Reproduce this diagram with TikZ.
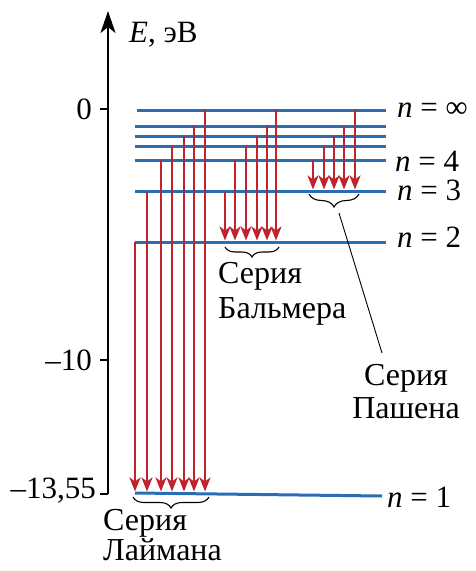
\documentclass[tikz,border=0pt]{standalone}
\usepackage{fontspec}
\setmainfont{Liberation Serif}
\usetikzlibrary{arrows.meta,decorations.pathreplacing}
\definecolor{lvblue}{RGB}{38,110,182}
\definecolor{trred}{RGB}{192,35,45}

\begin{document}
\begin{tikzpicture}[x=1pt, y=-1pt, font=\fontsize{31}{33}\selectfont,
    lvl/.style={line width=3pt, lvblue},
    tr/.style={line width=2.6pt, trred, shorten >=1.5pt,
        -{Stealth[length=14pt, width=11pt, inset=4pt]}},
    br/.style={decorate, decoration={brace, mirror, amplitude=#1}, line width=1.1pt},
    br/.default=10pt,
    lab/.style={anchor=base west, inner sep=0pt},
    ser/.style={align=#1, inner sep=0pt}]
    \useasboundingbox (0,0) rectangle (476,571);

    % ось энергии
    \coordinate (ax0) at (108,494);
    \coordinate (ax1) at (108,11);
    \draw[line width=2.4pt, -{Stealth[length=22pt, width=15pt, inset=6pt]}] (ax0) -- (ax1);
    \node[lab] (elab) at (129,42) {\textit{E}, эВ};

    % деления
    \coordinate (t0) at (108,109);
    \coordinate (t10) at (108,360);
    \draw[line width=2.4pt] (t0) -- ++(-8,0);
    \draw[line width=2.4pt] (t10) -- ++(-8,0);
    \draw[line width=2.4pt] (ax0) -- ++(-8,0);
    \node[anchor=east, inner sep=0pt] (v0) at (92,109) {0};
    \node[anchor=east, inner sep=0pt] (v10) at (92,360) {–10};
    \node[anchor=east, inner sep=0pt] (v13) at (96,491) {–13,55};

    % уровни
    \coordinate (ninf) at (137,110);
    \coordinate (n7) at (135,126);
    \coordinate (n6) at (135,136);
    \coordinate (n5) at (135,146);
    \coordinate (n4) at (135,160);
    \coordinate (n3) at (135,191);
    \coordinate (n2) at (135,242);
    \coordinate (n1) at (135,493);
    \draw[lvl] (ninf) -- (386,0 |- ninf);
    \draw[lvl] (n7) -- (386,0 |- n7);
    \draw[lvl] (n6) -- (386,0 |- n6);
    \draw[lvl] (n5) -- (386,0 |- n5);
    \draw[lvl] (n4) -- (386,0 |- n4);
    \draw[lvl] (n3) -- (386,0 |- n3);
    \draw[lvl] (n2) -- (386,0 |- n2);
    \draw[lvl] (n1) -- (382,496);

    \node[lab] (linf) at (397,117) {\textit{n} = ∞};
    \node[lab] (l4) at (395,171) {\textit{n} = 4};
    \node[lab] (l3) at (397,200) {\textit{n} = 3};
    \node[lab] (l2) at (397,247) {\textit{n} = 2};
    \node[lab] (l1) at (387,507) {\textit{n} = 1};

    % серия Лаймана
    \draw[tr] (n2) -- (n2 |- n1);
    \draw[tr] (147,0 |- n3) -- (147,0 |- n1);
    \draw[tr] (161,0 |- n4) -- (161,0 |- n1);
    \draw[tr] (172,0 |- n5) -- (172,0 |- n1);
    \draw[tr] (184,0 |- n6) -- (184,0 |- n1);
    \draw[tr] (194,0 |- n7) -- (194,0 |- n1);
    \draw[tr] (205,0 |- ninf) -- (205,0 |- n1);

    % серия Бальмера
    \draw[tr] (225,0 |- n3) -- (225,0 |- n2);
    \draw[tr] (235,0 |- n4) -- (235,0 |- n2);
    \draw[tr] (246,0 |- n5) -- (246,0 |- n2);
    \draw[tr] (257,0 |- n6) -- (257,0 |- n2);
    \draw[tr] (267,0 |- n7) -- (267,0 |- n2);
    \draw[tr] (276,0 |- ninf) -- (276,0 |- n2);

    % серия Пашена
    \draw[tr] (313,0 |- n4) -- (313,0 |- n3);
    \draw[tr] (324,0 |- n5) -- (324,0 |- n3);
    \draw[tr] (334,0 |- n6) -- (334,0 |- n3);
    \draw[tr] (344,0 |- n7) -- (344,0 |- n3);
    \draw[tr] (355,0 |- ninf) -- (355,0 |- n3);

    % скобки и подписи
    \coordinate (lya) at (133,497);
    \coordinate (lyb) at (209,497);
    \coordinate (baa) at (225,247);
    \coordinate (bab) at (279,247);
    \coordinate (paa) at (309,194);
    \coordinate (pab) at (359,194);
    \draw[br=11pt] (lya) -- (lyb);
    \draw[br] (baa) -- (bab);
    \draw[br=13pt] (paa) -- (pab);

    \node[ser=left, anchor=north west, font=\fontsize{32}{27}\selectfont]
        (lyman) at (103,509) {Серия\\Лаймана};
    \node[ser=left, anchor=north west, font=\fontsize{32}{35}\selectfont]
        (balmer) at (218,262) {Серия\\Бальмера};
    \node[ser=center, anchor=north, font=\fontsize{32}{33}\selectfont]
        (paschen) at (406,364) {Серия\\Пашена};

    \coordinate (pt) at (339,213);
    \draw[line width=0.9pt] (pt) -- (382,353);
\end{tikzpicture}
\end{document}
